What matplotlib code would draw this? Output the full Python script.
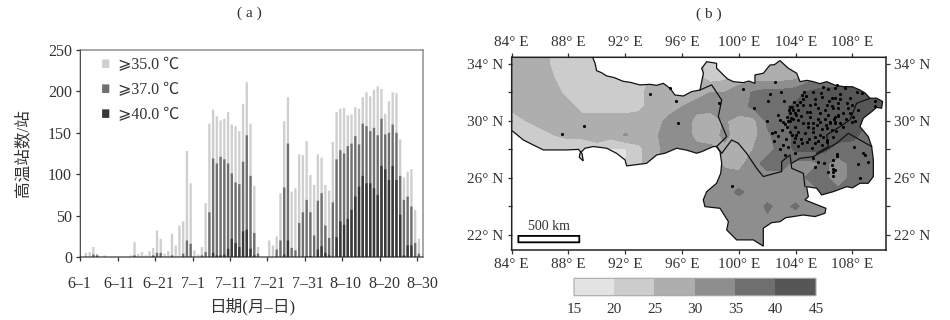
import numpy as np
import matplotlib
matplotlib.use("Agg")
import matplotlib.pyplot as plt
from matplotlib.patches import Polygon, Rectangle
from matplotlib.transforms import ScaledTranslation

plt.rcParams['font.family'] = ['Liberation Serif', 'Noto Sans CJK SC', 'DejaVu Sans']
plt.rcParams['path.snap'] = False

# panel a: number of stations per day, 6-1 to 8-30
above_35 = [0, 5, 6, 12, 4, 0, 2, 0, 0, 0, 0, 0, 0, 2, 18, 4, 6, 2, 7, 11, 32, 22, 4, 7, 28, 14, 38, 43, 128, 89,
            8, 3, 12, 65, 161, 178, 170, 165, 167, 175, 160, 158, 152, 185, 211, 161, 86, 12, 0, 0, 20, 14, 25, 77, 164, 193,
            79, 83, 124, 123, 140, 99, 87, 124, 120, 87, 80, 139, 175, 179, 180, 171, 172, 181, 179, 193, 199, 194, 202, 206, 203,
            173, 188, 199, 198, 142, 96, 103, 106, 57, 22]
above_37 = [0, 0, 0, 3, 2, 0, 0, 0, 0, 0, 0, 0, 0, 0, 2, 0, 0, 0, 0, 2, 5, 5, 0, 0, 2, 0, 0, 4, 20, 16,
            0, 0, 2, 6, 54, 119, 113, 121, 118, 113, 101, 90, 88, 115, 147, 98, 29, 4, 0, 0, 0, 0, 9, 20, 84, 137,
            11, 8, 41, 54, 69, 54, 26, 68, 77, 38, 23, 66, 118, 129, 125, 134, 137, 146, 136, 161, 158, 152, 156, 147, 167,
            148, 150, 160, 150, 98, 69, 73, 61, 17, 4]
above_40 = [0, 0, 0, 0, 0, 0, 0, 0, 0, 0, 0, 0, 0, 0, 0, 0, 0, 0, 0, 0, 0, 0, 0, 0, 0, 0, 0, 0, 0, 0,
            0, 0, 0, 0, 0, 5, 2, 2, 3, 10, 22, 17, 12, 31, 33, 10, 2, 0, 0, 0, 0, 0, 0, 0, 3, 20,
            0, 0, 0, 0, 1, 1, 0, 9, 13, 5, 2, 0, 24, 43, 39, 46, 57, 73, 85, 98, 89, 89, 83, 75, 110,
            106, 93, 110, 93, 51, 2, 14, 14, 0, 0]
date_labels = ["6–1", "6–11", "6–21", "7–1", "7–11", "7–21", "7–31", "8–10", "8–20", "8–30"]
date_ticks = [0, 10, 20, 30, 40, 50, 60, 70, 80, 90]

# panel b: mean temperature read on a 1 degree grid
grid_lon = list(range(84, 112))
grid_lat = list(range(35, 20, -1))
temp_35 = [27, 27, 27, 24, 23, 23, 23, 23, 23, 23, 25, 27, 27, 27, 23, 23, 27, 28, 28, 28, 29, 30, 30, 30, 30, 30, 30, 30]
temp_34 = [27, 27, 27, 24, 23, 23, 23, 23, 23, 23, 25, 27, 27, 27, 23, 23, 27, 28, 28, 28, 29, 30, 30, 30, 30, 30, 30, 30]
temp_33 = [27, 27, 27, 25, 23, 23, 23, 23, 23, 23, 26, 27, 27, 27, 23, 24, 28, 28, 28, 28, 29, 33, 38, 38, 38, 38, 38, 38]
temp_32 = [27, 27, 27, 26, 24, 23, 23, 23, 23, 24, 27, 28, 28, 29, 30, 30, 32, 35.5, 37, 37, 38, 41, 41, 41, 42, 42, 42, 42]
temp_31 = [26, 27, 27, 27, 26, 24, 23, 23, 23, 24, 27, 28, 30, 31, 32, 32, 33, 36, 37, 39, 41, 42, 42, 42, 42, 42, 42, 42]
temp_30 = [23, 25, 27, 27, 27, 26, 27, 27, 27, 27, 28, 31, 32, 29, 27, 30.5, 28, 28, 36, 39, 41, 41, 42, 42, 42, 41, 41, 41]
temp_29 = [22, 22, 23, 25, 26, 26, 27, 27, 30.5, 27, 29, 32, 32, 29, 28, 31, 28, 28, 34, 38, 41, 42, 42, 42, 42, 37, 33, 33]
temp_28 = [20, 21, 22, 22, 22, 22, 23, 19.5, 19.5, 24, 28, 32, 32, 31, 31, 29, 28, 30, 33, 37, 41, 41, 41, 38, 37, 38, 37, 37]
temp_27 = [21, 21, 21, 21, 21, 21, 21, 21, 20, 24, 29, 31, 32, 32, 32, 29, 28, 33, 37, 37, 33, 33, 36, 33, 36, 37, 37, 37]
temp_26 = [20, 20, 20, 20, 20, 20, 20, 20, 20, 25, 30, 32, 32, 32, 32, 32, 32, 32, 33, 33, 33, 36, 36, 33, 36, 37, 37, 37]
temp_25 = [20, 20, 20, 20, 20, 20, 20, 20, 20, 25, 30, 32, 32, 32, 33, 33, 36, 33, 32, 32, 32, 32, 36, 36, 36, 36, 36, 36]
temp_24 = [20, 20, 20, 20, 20, 20, 20, 20, 20, 25, 30, 32, 32, 32, 32, 32, 32, 32, 36, 33, 36, 32, 32, 32, 32, 32, 32, 32]
temp_23 = [20, 20, 20, 20, 20, 20, 20, 20, 20, 25, 30, 32, 32, 32, 32, 32, 32, 32, 34, 32, 32, 32, 34, 32, 32, 32, 32, 32]
temp_22 = [20, 20, 20, 20, 20, 20, 20, 20, 20, 25, 30, 32, 32, 32, 32, 32, 32, 32, 32, 32, 32, 32, 32, 32, 32, 32, 32, 32]
temp_21 = [20, 20, 20, 20, 20, 20, 20, 20, 20, 25, 30, 32, 32, 32, 32, 32, 32, 32, 32, 32, 32, 32, 32, 32, 32, 32, 32, 32]
levels = [15, 20, 25, 30, 35, 40, 45]

# region outline, lon and lat
outline_lon = [89.7, 89.87, 89.98, 90.3, 90.69, 91.2, 91.86, 92.4, 93.03, 93.74, 94.2, 94.68, 95.15, 95.5, 96.09, 96.67, 97.26, 97.5, 97.38, 97.73,
               98.43, 98.43, 98.79, 99.2, 99.61, 100.31, 100.7, 101.13, 101.13, 101.72, 102.19, 102.5, 102.89, 103.48, 104.07, 104.3, 104.8, 105.24,
               105.7, 106.18, 106.8, 107.35, 108.0, 108.53, 108.9, 109.23, 109.7, 110.12, 110.05, 109.7, 109.35, 108.76, 108.53, 109.11, 109.35, 109.47, 109.47, 109.11,
               108.53, 108.0, 107.59, 106.65, 105.83, 105.48, 104.77, 104.89, 104.65, 105.24, 106.13, 106.06, 105.36, 104.53, 103.83,
               103.3, 102.89, 102.3, 101.72, 101.72, 101.02, 99.84, 99.14, 99.26, 98.67, 97.61, 97.49, 97.73, 98.43, 98.72, 98.79, 98.67, 98.43,
               98.2, 97.38, 97.03, 96.3, 95.62, 94.8, 94.21, 93.5, 92.1, 91.98, 91.39, 90.69, 89.75, 89.16, 88.81, 88.76, 89.04, 88.95,
               88.7, 87.87, 87.17, 86.23, 85.52, 84.82, 84.1, 84.0, 83.5, 83.5, 89.7]
outline_lat = [34.47, 34.05, 33.53, 33.4, 33.16, 33.05, 32.78, 32.7, 32.53, 32.57, 32.5, 32.64, 32.29, 31.82, 31.75, 32.06, 32.17, 33.35, 33.7, 34.16,
               34.05, 33.7, 33.35, 32.95, 32.76, 32.69, 32.8, 32.64, 33.23, 33.35, 33.93, 33.95, 34.24, 33.7, 33.35, 32.76, 32.85, 32.76,
               32.62, 32.76, 32.5, 32.41, 32.4, 32.17, 31.95, 31.59, 31.6, 31.36, 30.89, 30.95, 30.65, 30.19, 29.6, 28.9, 28.2, 27.26, 26.09, 25.62,
               25.62, 25.3, 25.38, 25.03, 24.8, 25.27, 25.38, 24.68, 24.45, 24.21, 23.86, 23.51, 23.28, 23.39, 23.28,
               23.2, 22.92, 22.85, 22.46, 21.2, 21.64, 21.64, 22.34, 22.92, 23.86, 23.98, 24.45, 25.03, 25.62, 26.32, 27.02, 27.84, 28.2,
               28.2, 27.84, 27.73, 27.95, 28.08, 27.73, 27.61, 27.02, 26.84, 27.26, 27.72, 28.08, 28.2, 28.08, 27.72, 27.44, 27.19, 27.72,
               28.0, 27.96, 27.96, 27.96, 28.31, 28.66, 29.25, 29.32, 29.32, 34.8, 34.8]

# province borders inside the region
tibet_lon = [97.26, 98.08, 98.79, 98.55, 99.14, 98.43]
tibet_lat = [32.17, 32.53, 31.47, 30.3, 28.9, 28.2]
yunnan_lon = [98.43, 98.79, 99.49, 99.96, 100.55, 101.25, 101.72, 102.54, 103.01, 103.01, 103.6, 103.72, 104.54, 104.65]
yunnan_lat = [28.2, 27.72, 28.66, 28.43, 27.72, 26.67, 26.09, 26.32, 26.44, 27.14, 27.61, 26.67, 26.32, 25.38]
guizhou_lon = [103.72, 104.3, 105.24, 106.06, 106.88, 107.71, 108.53, 109.35]
guizhou_lat = [27.02, 27.37, 27.49, 27.96, 28.43, 29.13, 28.66, 28.2]
chongqing_lon = [109.23, 108.29, 107.82, 107.12, 106.18, 106.3, 105.48]
chongqing_lat = [31.59, 31.24, 30.07, 29.6, 29.01, 28.2, 27.73]

# stations
station_lon = [87.57, 89.07, 93.76, 95.57, 95.73, 95.15, 98.62, 99.49, 100.31, 102.54, 102.94, 102.19, 102.07, 103.18, 101.09, 101.95,
               104.42, 104.7, 104.54, 104.3, 105.19, 105.95, 106.3, 106.77, 105.36, 105.83, 106.53, 103.6, 104.07, 104.54, 105.01,
               105.36, 106.18, 106.65, 107.0, 103.83, 104.19, 104.77, 105.59, 106.06, 103.6, 103.95, 103.36, 102.78, 104.19, 105.01,
               105.71, 106.3, 107.0, 102.89, 103.13, 103.6, 103.83, 104.54, 105.24, 105.71, 106.42, 106.77, 103.36, 103.95, 104.89,
               105.83, 106.18, 106.53, 102.54, 103.6, 104.19, 104.65, 105.24, 105.71, 102.31, 103.01, 103.72, 105.36, 105.95, 106.65, 103.95,
               106.88, 107.47, 107.11, 108.29, 108.64, 106.76, 107.58, 109.58, 109.58, 106.53, 107.94, 107.7, 107.0, 108.4, 107.82,
               106.76, 107.0, 108.05, 108.17, 106.76, 107.11, 106.41, 107.94,
               102.89, 103.13, 103.48, 104.19, 104.42, 104.77, 105.36, 105.12, 105.83, 106.18, 103.25, 103.95, 102.47, 102.78, 108.1, 108.76,
               105.24, 105.59, 106.0, 106.9, 106.9, 106.65, 106.58, 106.65, 106.77, 106.6, 106.65, 105.36, 106.25, 108.41, 109.07, 108.88, 108.53,
               103.75, 103.9, 104.05, 103.5, 103.7, 103.45, 103.25, 104.35, 105.0, 105.55, 106.05, 106.7, 105.2, 104.85, 105.5, 106.1,
               104.0, 103.3, 103.85, 104.4, 104.95, 105.6, 106.2, 106.85, 107.3, 107.55, 106.35, 107.15, 105.8, 104.55, 107.8, 107.35]
station_lat = [29.06, 29.65, 31.87, 31.4, 29.83, 32.29, 31.24, 25.45, 32.24, 32.76, 32.06, 31.87, 31.43, 31.42, 30.93, 30.02,
               31.82, 31.78, 31.54, 31.35, 32.06, 32.41, 32.22, 32.29, 31.52, 31.71, 31.59, 31.0, 31.12, 31.12, 31.12,
               31.19, 31.12, 30.89, 31.24, 30.77, 30.77, 30.65, 30.89, 30.77, 30.53, 30.53, 30.3, 30.42, 30.07, 30.3,
               30.53, 30.42, 30.42, 30.07, 29.95, 30.02, 30.11, 29.83, 29.83, 29.95, 29.95, 29.83, 29.6, 29.6, 29.6,
               29.41, 29.48, 29.36, 29.25, 29.25, 29.25, 29.13, 29.25, 29.01, 29.18, 29.36, 29.01, 28.89, 28.89, 28.89, 28.78,
               32.52, 32.29, 31.89, 32.06, 31.94, 31.59, 31.28, 31.42, 31.05, 31.05, 31.12, 30.89, 30.88, 30.8, 30.53,
               30.3, 30.35, 30.3, 30.02, 29.95, 29.88, 29.83, 29.95,
               28.0, 28.3, 28.2, 28.24, 28.43, 28.55, 28.43, 28.08, 28.31, 28.66, 27.61, 27.73, 28.6, 28.95, 28.2, 27.73,
               27.37, 27.14, 27.02, 27.7, 27.5, 27.25, 26.9, 26.65, 26.55, 26.4, 26.13, 26.74, 26.44, 27.0, 27.14, 27.6, 25.97,
               30.95, 31.3, 30.4, 30.8, 30.2, 30.0, 29.8, 30.35, 30.6, 30.15, 30.15, 30.1, 29.5, 29.85, 29.7, 29.7,
               29.0, 28.7, 28.55, 28.75, 28.7, 28.6, 28.5, 29.3, 29.6, 30.15, 31.4, 31.55, 31.95, 32.0, 31.6, 30.55]

W, H = 950, 320
fig = plt.figure(figsize=(W / 100, H / 100), dpi=100)


def px_axes(x0, y0, x1, y1):
    return fig.add_axes([x0 / W, 1 - y1 / H, (x1 - x0) / W, (y1 - y0) / H])


text_color = "#333333"
fs = 11

# ---- panel a
ax = px_axes(80.3, 50, 423, 257)
x = np.arange(len(above_35)) + 0.5
ax.bar(x, above_35, width=0.62, color="#cfcfcf", label="⩾35.0 ℃")
ax.bar(x, above_37, width=0.62, color="#707070", label="⩾37.0 ℃")
ax.bar(x, above_40, width=0.62, color="#383838", label="⩾40.0 ℃")
ax.set_xlim(0, 91.6)
ax.set_ylim(0, 250)
ax.set_yticks([0, 50, 100, 150, 200, 250])
ax.set_xticks(date_ticks)
ax.set_xticklabels(date_labels)
ax.tick_params(labelsize=11.5, length=3, width=0.9, colors=text_color)
ax.tick_params(axis="x", pad=11)
ax.tick_params(axis="y", pad=3)
label_shift = [-0.8, 1.6, 2.7, 0.2, 0.6, 2, 2.8, 3.6, 4.5, 5.6]
for lab, dx in zip(ax.get_xticklabels(), label_shift):
    lab.set_transform(lab.get_transform() + ScaledTranslation(dx / 100, 0, fig.dpi_scale_trans))
for side in ["top", "right"]:
    ax.spines[side].set_color("#666666")
ax.spines["left"].set_color("#333333")
ax.spines["bottom"].set_color("#222222")
ax.set_xlabel("日期(月–日)", fontsize=12, color=text_color, labelpad=4)
ax.set_ylabel("高温站数/站", fontsize=12, color=text_color, labelpad=12)
ax.legend(loc="upper left", frameon=False, fontsize=11.5, handlelength=0.45, handleheight=0.45,
          handletextpad=0.55, labelspacing=0.56, borderaxespad=0, bbox_to_anchor=(0.045, 0.995),
          labelcolor=text_color)
fig.text(249 / W, 1 - 13 / H, "( a )", ha="center", va="center", fontsize=fs, color=text_color)

# ---- panel b
m = px_axes(511.7, 57.3, 886, 250)
temps = [temp_35, temp_34, temp_33, temp_32, temp_31, temp_30, temp_29, temp_28, temp_27,
         temp_26, temp_25, temp_24, temp_23, temp_22, temp_21]
greys = ["#e3e3e3", "#cccccc", "#aeaeae", "#8e8e8e", "#6f6f6f", "#565656"]
cf = m.contourf(grid_lon, grid_lat, temps, levels=levels, colors=greys)
region = Polygon(list(zip(outline_lon, outline_lat)), closed=True, fill=False, edgecolor="#111111", lw=0.9, zorder=3)
m.add_patch(region)
cf.set_clip_path(region)
for bx, by in [(tibet_lon, tibet_lat), (yunnan_lon, yunnan_lat), (guizhou_lon, guizhou_lat), (chongqing_lon, chongqing_lat)]:
    m.plot(bx, by, color="#111111", lw=0.9, zorder=3)
m.scatter(station_lon, station_lat, s=5, color="black", linewidths=0, zorder=4)
m.add_patch(Rectangle((84.47, 21.47), 4.29, 0.45, facecolor="white", edgecolor="black", lw=1.3, zorder=4))
m.text(86.6, 22.55, "500 km", ha="center", va="center", fontsize=fs - 1, color=text_color)

m.set_xlim(84, 110.36)
m.set_ylim(20.93, 34.47)
m.set_xticks([84, 88, 92, 96, 100, 104, 108])
m.set_xticklabels([f"{v}° E" for v in [84, 88, 92, 96, 100, 104, 108]])
m.set_yticks([22, 24, 26, 28, 30, 32, 34])
m.set_yticklabels(["22° N", "", "26° N", "", "30° N", "", "34° N"])
m.tick_params(labelsize=fs, length=3, width=0.9, colors=text_color, pad=3, top=True, right=True, labeltop=True, labelright=True)
for s in m.spines.values():
    s.set_color("#222222")
    s.set_linewidth(1.1)
fig.text(709 / W, 1 - 14 / H, "( b )", ha="center", va="center", fontsize=fs, color=text_color)

# ---- colour bar
cax = px_axes(574, 278.3, 816, 295.7)
cb = fig.colorbar(cf, cax=cax, orientation="horizontal", ticks=levels)
cb.outline.set_edgecolor("#aaaaaa")
cb.ax.tick_params(length=0, labelsize=fs, colors=text_color, pad=5)

fig.savefig("out.png", dpi=100)
